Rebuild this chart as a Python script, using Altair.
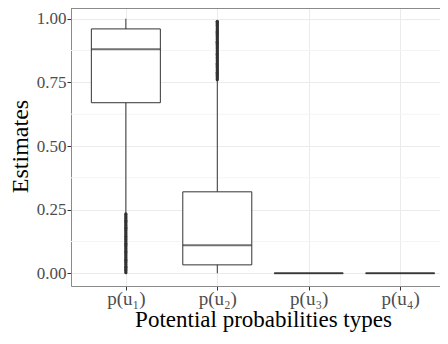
import altair as alt
import pandas as pd

categories = ["p(u₁)", "p(u₂)", "p(u₃)", "p(u₄)"]
whisker_low = [0.235, 0.0, 0.0, 0.0]
q1 = [0.67, 0.033, 0.0, 0.0]
median = [0.88, 0.11, 0.0, 0.0]
q3 = [0.96, 0.32, 0.0, 0.0]
whisker_high = [1.0, 0.755, 0.0, 0.0]

outliers_u1 = [0.002, 0.006, 0.011, 0.015, 0.019, 0.024, 0.028, 0.033, 0.037, 0.042,
               0.046, 0.051, 0.055, 0.060, 0.064, 0.069, 0.073, 0.078, 0.082, 0.087,
               0.091, 0.096, 0.100, 0.105, 0.109, 0.114, 0.118, 0.123, 0.127, 0.132,
               0.136, 0.141, 0.145, 0.150, 0.154, 0.159, 0.163, 0.168, 0.172, 0.177,
               0.181, 0.186, 0.190, 0.195, 0.199, 0.204, 0.208, 0.213, 0.217, 0.222,
               0.226, 0.231, 0.234]
outliers_u2 = [0.760, 0.764, 0.768, 0.773, 0.777, 0.781, 0.786, 0.790, 0.795, 0.799,
               0.803, 0.808, 0.812, 0.816, 0.821, 0.825, 0.830, 0.834, 0.838, 0.843,
               0.847, 0.851, 0.856, 0.860, 0.864, 0.869, 0.873, 0.877, 0.882, 0.886,
               0.890, 0.895, 0.899, 0.904, 0.908, 0.912, 0.917, 0.921, 0.925, 0.930,
               0.934, 0.938, 0.943, 0.947, 0.951, 0.956, 0.960, 0.964, 0.969, 0.973,
               0.977, 0.981, 0.985, 0.988, 0.990]
minor_breaks = [0.125, 0.375, 0.625, 0.875]

FONT = "Liberation Serif"
FRAME = "#8A8A8A"

stats = pd.DataFrame({
    "cat": categories, "lo": whisker_low, "q1": q1, "med": median,
    "q3": q3, "hi": whisker_high,
})
out = pd.DataFrame({
    "cat": [categories[0]] * len(outliers_u1) + [categories[1]] * len(outliers_u2),
    "v": outliers_u1 + outliers_u2,
})
minor = pd.DataFrame({"v": minor_breaks})

x = alt.X("cat:N", sort=categories,
          scale=alt.Scale(type="point", padding=0.6, range=[0, 384]),
          axis=alt.Axis(title="Potential probabilities types", labelAngle=0,
                        labelFont=FONT, labelFontSize=19, labelColor="#4D4D4D",
                        titleFont=FONT, titleFontSize=23, titleFontWeight="normal",
                        titleColor="#000000", tickColor="#333333", tickSize=4,
                        labelPadding=-1, titlePadding=0, domain=True,
                        domainColor=FRAME, domainWidth=1,
                        grid=True, gridColor="#EBEBEB", gridWidth=1))
yscale = alt.Scale(domain=[-0.05, 1.05], nice=False, zero=False, range=[278, -2])
yaxis = alt.Axis(title="Estimates", values=[0, 0.25, 0.5, 0.75, 1.0], format=".2f",
                 labelFont=FONT, labelFontSize=17, labelColor="#4D4D4D",
                 titleFont=FONT, titleFontSize=24, titleFontWeight="normal",
                 titleColor="#000000", tickColor="#333333", tickSize=4,
                 labelPadding=1, titlePadding=4, domain=True,
                 domainColor=FRAME, domainWidth=1,
                 grid=True, gridColor="#EBEBEB", gridWidth=1)

minor_layer = alt.Chart(minor).mark_rule(color="#F4F4F4", strokeWidth=1).encode(
    y=alt.Y("v:Q", scale=yscale, axis=yaxis))

top_line = alt.Chart(pd.DataFrame({"k": [0]})).mark_rule(
    color=FRAME, strokeWidth=1).encode(
    y=alt.value(0.5), x=alt.value(0), x2=alt.value(369))

whisk = alt.Chart(stats).mark_rule(color="#333333", strokeWidth=1).encode(
    x=x, y=alt.Y("lo:Q", scale=yscale, axis=yaxis), y2="hi:Q")

box = alt.Chart(stats).mark_bar(size=69, fill="white", stroke="#333333",
                                strokeWidth=1).encode(
    x=x, y=alt.Y("q1:Q", scale=yscale, axis=yaxis), y2="q3:Q")

med = alt.Chart(stats).mark_tick(size=69, thickness=2, color="#333333").encode(
    x=x, y=alt.Y("med:Q", scale=yscale, axis=yaxis))

pts = alt.Chart(out).mark_circle(size=10, color="#333333", opacity=1).encode(
    x=x, y=alt.Y("v:Q", scale=yscale, axis=yaxis))

chart = alt.layer(minor_layer, whisk, box, med, pts, top_line).properties(
    width=369, height=278,
    autosize=alt.AutoSizeParams(type="none"),
    padding={"left": 63, "top": 0, "right": 0, "bottom": 48},
).configure_view(strokeWidth=0).configure(
    background="white", font=FONT)

chart.save("out.html", embed_options={"renderer": "svg", "actions": False})
